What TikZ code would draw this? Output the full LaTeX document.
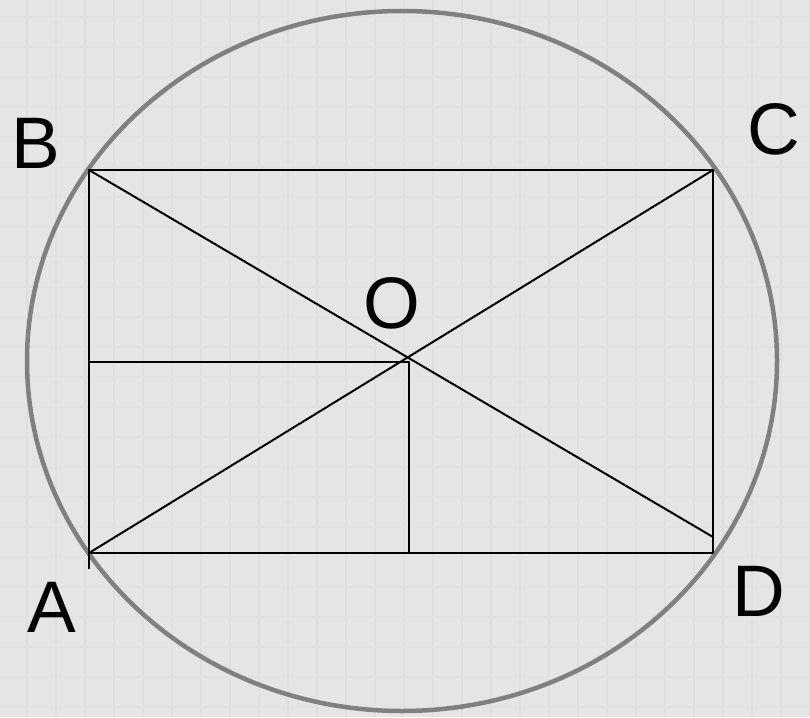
\documentclass[tikz,border=0pt]{standalone}
\usepackage{fontspec}
\setmainfont{Liberation Sans}
\begin{document}
\begin{tikzpicture}[x=1pt, y=-1pt,
  lettera/.style={font=\fontsize{73}{80}\selectfont, inner sep=0pt}]

% sfondo
\useasboundingbox (0,0) rectangle (810,717);
\fill[gray!20] (0,0) rectangle (810,717);
\foreach \i in {0,...,27} \draw[gray!25, line width=1.4pt] (\i*29+27,0) -- (\i*29+27,717);
\foreach \j in {0,...,24} \draw[gray!23, line width=1.2pt] (0,\j*30+17) -- (810,\j*30+17);

% punti
\coordinate (A) at (89,553);
\coordinate (B) at (89,170);
\coordinate (C) at (713,170);
\coordinate (D) at (713,553);
\coordinate (E) at (713,537);
\coordinate (M) at (402,361);
\coordinate (P) at (89,362);
\coordinate (Q) at (409,362);
\coordinate (R) at (409,553);
\coordinate (S) at (89,569);

% circonferenza
\draw[gray, line width=4.5pt] (M) ellipse[x radius=375, y radius=350];

% rettangolo
\draw[line width=2pt] (S) -- (B) -- (C) -- (D) -- (A);

% diagonali
\draw[line width=2pt] (A) -- (C);
\draw[line width=2pt] (B) -- (E);

% rettangolo piccolo
\draw[line width=2pt] (P) -- (Q) -- (R);

% etichette
\node[lettera] (lA) at (52,607) {A};
\node[lettera] (lB) at (36,143) {B};
\node[lettera] (lC) at (774,129) {C};
\node[lettera] (lD) at (759,591) {D};
\node[lettera] (lO) at (392,303) {O};

\end{tikzpicture}
\end{document}
